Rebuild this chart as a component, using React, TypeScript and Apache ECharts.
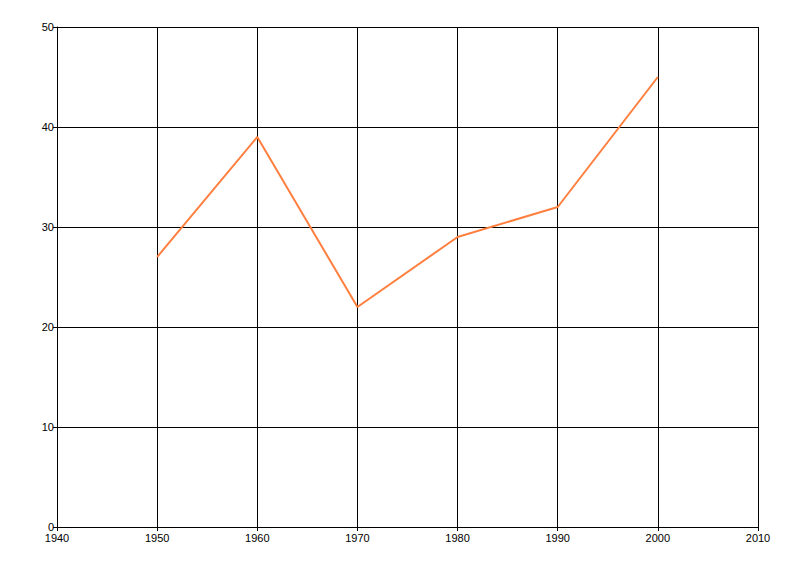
import React, { useEffect, useRef } from "react";
import * as echarts from "echarts";

const years = [1950, 1960, 1970, 1980, 1990, 2000];
const values = [27, 39, 22, 29, 32, 45];

export default function App() {
  const ref = useRef<HTMLDivElement>(null);
  useEffect(() => {
    if (!ref.current) return;
    const chart = echarts.init(ref.current, null, { renderer: "svg" });
    const axisCommon = {
      axisLine: { show: true, lineStyle: { color: "#000", width: 1 } },
      axisTick: { show: true, length: 4, lineStyle: { color: "#000" } },
      splitLine: { show: true, lineStyle: { color: "#000", width: 1 } },
      axisLabel: {
        color: "#000",
        fontSize: 11,
        fontFamily: "Liberation Sans, Arial, sans-serif",
        formatter: (v: number) => String(v),
      },
    };
    chart.setOption({
      animation: false,
      backgroundColor: "#fff",
      grid: { left: 57, right: 42, top: 27, bottom: 49, containLabel: false },
      xAxis: {
        type: "value",
        min: 1940,
        max: 2010,
        interval: 10,
        ...axisCommon,
        axisLabel: { ...axisCommon.axisLabel, margin: 5 },
      },
      yAxis: {
        type: "value",
        min: 0,
        max: 50,
        interval: 10,
        ...axisCommon,
        axisLabel: { ...axisCommon.axisLabel, margin: 3 },
      },
      series: [
        {
          type: "line",
          data: years.map((y, i) => [y, values[i]]),
          showSymbol: false,
          symbol: "none",
          lineStyle: { color: "#FF7F3F", width: 2 },
        },
      ],
    });
    return () => chart.dispose();
  }, []);
  return (
    <div
      ref={ref}
      style={{ position: "fixed", left: 0, top: 0, width: 800, height: 576, background: "#fff" }}
    />
  );
}
